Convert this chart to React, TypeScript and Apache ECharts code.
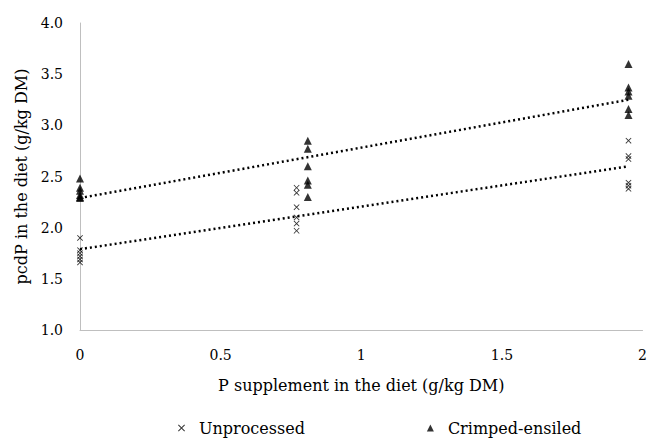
import React, { useEffect, useRef } from "react";
import * as echarts from "echarts";

const unprocessedX = [0, 0, 0, 0, 0, 0, 0.77, 0.77, 0.77, 0.77, 0.77, 0.77, 1.95, 1.95, 1.95, 1.95, 1.95, 1.95];
const unprocessedY = [1.90, 1.78, 1.75, 1.72, 1.69, 1.66, 2.39, 2.34, 2.20, 2.10, 2.04, 1.97, 2.85, 2.70, 2.67, 2.44, 2.41, 2.38];
const crimpedX = [0, 0, 0, 0, 0, 0, 0.81, 0.81, 0.81, 0.81, 0.81, 0.81, 1.95, 1.95, 1.95, 1.95, 1.95, 1.95];
const crimpedY = [2.48, 2.39, 2.36, 2.32, 2.30, 2.29, 2.85, 2.77, 2.60, 2.46, 2.42, 2.30, 3.60, 3.37, 3.33, 3.29, 3.16, 3.10];
const trendUnprocessed = [[0, 1.79], [1.95, 2.60]];
const trendCrimped = [[0, 2.29], [1.95, 3.25]];
const seriesNames = ["Unprocessed", "Crimped-ensiled"];

const crossPath = "path://M0,1L1,0L5,4L9,0L10,1L6,5L10,9L9,10L5,6L1,10L0,9L4,5Z";
const FONT = "DejaVu Serif";

export default function App() {
  const ref = useRef<HTMLDivElement>(null);
  useEffect(() => {
    const chart = echarts.init(ref.current!, undefined, { renderer: "svg" });
    chart.setOption({
      animation: false,
      textStyle: { fontFamily: FONT },
      grid: { left: 80, right: 4, top: 23, bottom: 110 },
      legend: {
        top: 420,
        left: 178,
        itemGap: 122,
        itemWidth: 7,
        itemHeight: 7,
        padding: 0,
        textStyle: { fontFamily: FONT, fontSize: 16, color: "#000", padding: [0, 0, 0, 9] },
        data: [
          { name: seriesNames[0], icon: crossPath },
          { name: seriesNames[1], icon: "triangle" },
        ],
      },
      xAxis: {
        type: "value",
        min: 0,
        max: 2,
        interval: 0.5,
        name: "P supplement in the diet (g/kg DM)",
        nameLocation: "middle",
        nameGap: 47,
        nameTextStyle: { fontFamily: FONT, fontSize: 16, color: "#000" },
        axisLine: { lineStyle: { color: "#bfbfbf" } },
        axisTick: { show: false },
        splitLine: { show: false },
        axisLabel: { fontFamily: FONT, fontSize: 14, color: "#000", margin: 18 },
      },
      yAxis: {
        type: "value",
        min: 1,
        max: 4,
        interval: 0.5,
        name: "pcdP in the diet (g/kg DM)",
        nameLocation: "middle",
        nameGap: 45,
        nameTextStyle: { fontFamily: FONT, fontSize: 16, color: "#000" },
        axisLine: { show: true, lineStyle: { color: "#bfbfbf" } },
        axisTick: { show: false },
        splitLine: { show: false },
        axisLabel: {
          fontFamily: FONT,
          fontSize: 14,
          color: "#000",
          margin: 17,
          formatter: (v: number) => v.toFixed(1),
        },
      },
      series: [
        {
          name: seriesNames[0],
          type: "scatter",
          symbol: crossPath,
          symbolSize: 6,
          itemStyle: { color: "#000" },
          data: unprocessedX.map((x, i) => [x, unprocessedY[i]]),
          z: 3,
        },
        {
          name: seriesNames[1],
          type: "scatter",
          symbol: "triangle",
          symbolSize: 8,
          itemStyle: { color: "#000" },
          data: crimpedX.map((x, i) => [x, crimpedY[i]]),
          z: 3,
        },
        {
          type: "line",
          data: trendUnprocessed,
          symbol: "none",
          lineStyle: { color: "#000", width: 2.5, type: [2, 3] },
          silent: true,
        },
        {
          type: "line",
          data: trendCrimped,
          symbol: "none",
          lineStyle: { color: "#000", width: 2.5, type: [2, 3] },
          silent: true,
        },
      ],
    });
    return () => chart.dispose();
  }, []);
  return <div ref={ref} style={{ position: "absolute", left: 0, top: 0, width: 650, height: 440 }} />;
}
